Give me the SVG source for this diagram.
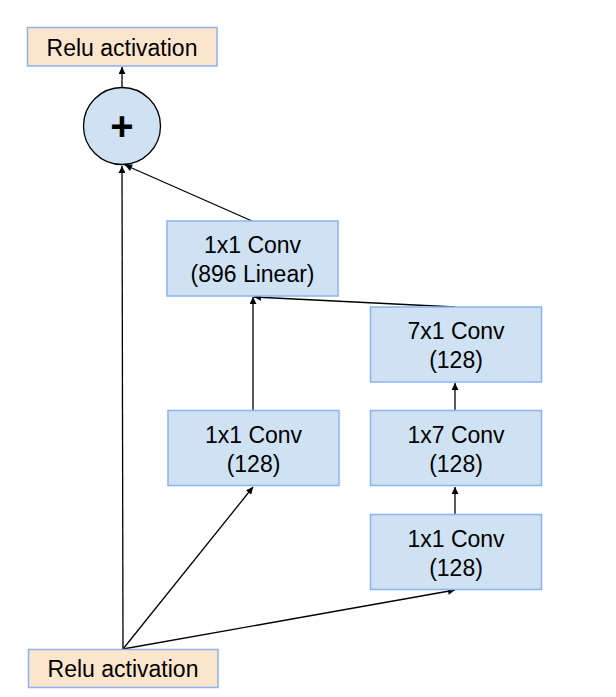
<svg xmlns="http://www.w3.org/2000/svg" width="616" height="697" viewBox="0 0 616 697">
<style>
.conv{fill:#cfe2f3;stroke:#8ab4f0;stroke-width:1.5}
.relu{fill:#fce5cd;stroke:#8ab4f0;stroke-width:1.5}
.t{font-family:"Liberation Sans",Arial,sans-serif;font-size:23px;fill:#000;text-anchor:middle}
.e{stroke:#000;stroke-width:1.3;fill:none;marker-end:url(#ah)}
</style>
<defs>
<marker id="ah" viewBox="0 0 10 10" refX="10" refY="5" markerWidth="8" markerHeight="7" markerUnits="userSpaceOnUse" orient="auto">
<path d="M0,0 L10,5 L0,10 z" fill="#000"/>
</marker>
</defs>
<rect width="616" height="697" fill="#fff"/>
<g id="edges">
<line class="e" x1="122" y1="87" x2="122" y2="67"/>
<line class="e" x1="123" y1="649" x2="122" y2="166"/>
<line class="e" x1="252" y1="221" x2="125" y2="165"/>
<line class="e" x1="123" y1="649" x2="253" y2="487"/>
<line class="e" x1="123" y1="649" x2="455" y2="590"/>
<line class="e" x1="253" y1="410" x2="253" y2="297"/>
<line class="e" x1="455" y1="307" x2="254" y2="297"/>
<line class="e" x1="455" y1="410" x2="455" y2="383"/>
<line class="e" x1="455" y1="514" x2="455" y2="487"/>
</g>
<g id="relu_top">
<rect class="relu" x="27.5" y="27.5" width="189.5" height="38.5"/>
<text class="t" x="122" y="56">Relu activation</text>
</g>
<g id="add">
<circle cx="122" cy="126" r="38.5" fill="#cfe2f3" stroke="#000" stroke-width="1.3"/>
<text x="122" y="140" font-family="Liberation Sans,Arial,sans-serif" font-weight="bold" font-size="40" text-anchor="middle">+</text>
</g>
<g id="conv896">
<rect class="conv" x="167" y="221" width="171" height="75"/>
<text class="t" x="252.5" y="253">1x1 Conv</text>
<text class="t" x="252.5" y="282">(896 Linear)</text>
</g>
<g id="conv7x1">
<rect class="conv" x="370.5" y="307" width="171" height="75"/>
<text class="t" x="456" y="339">7x1 Conv</text>
<text class="t" x="456" y="368">(128)</text>
</g>
<g id="conv1x1_left">
<rect class="conv" x="168" y="410.5" width="171" height="75"/>
<text class="t" x="253.5" y="443">1x1 Conv</text>
<text class="t" x="253.5" y="472">(128)</text>
</g>
<g id="conv1x7">
<rect class="conv" x="370.5" y="410.5" width="171" height="75"/>
<text class="t" x="456" y="443">1x7 Conv</text>
<text class="t" x="456" y="472">(128)</text>
</g>
<g id="conv1x1_right">
<rect class="conv" x="370.5" y="514.5" width="171" height="75"/>
<text class="t" x="456" y="547">1x1 Conv</text>
<text class="t" x="456" y="576">(128)</text>
</g>
<g id="relu_bottom">
<rect class="relu" x="28.5" y="649.5" width="189.5" height="38"/>
<text class="t" x="123" y="677">Relu activation</text>
</g>
</svg>
